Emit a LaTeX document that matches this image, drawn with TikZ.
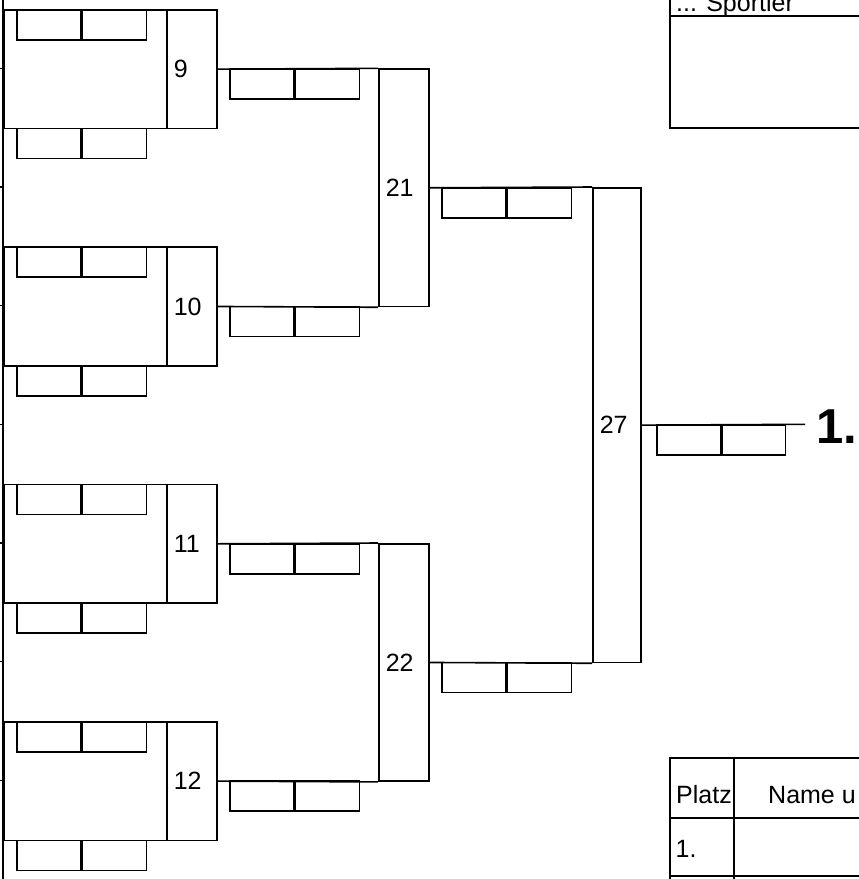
\documentclass[tikz,border=0pt]{standalone}
\usepackage{fontspec}
\setmainfont{Liberation Sans}
\begin{document}
\begin{tikzpicture}[x=1pt,y=-1pt,
  ln/.style={line width=1.6pt},
  cell/.style={draw, line width=1.6pt, inner sep=0pt, anchor=north west},
  score/.style={cell, minimum width=64pt, minimum height=30pt},
  lbl/.style={font=\fontsize{25}{25}\selectfont},
  numcell/.style={cell, lbl, minimum width=50pt, inner xsep=7pt, text width=36pt, align=left},
]
\useasboundingbox (0,0) rectangle (859,879);
\clip (0,0) rectangle (859,879);
% left rail and ticks
\draw[ln] (3,-5) -- (3,890);
\foreach \yy in {68.33,187,305.67,424.33,543,661.67,780.33}
  \draw[ln] (-2,\yy) -- (3,\yy);
% first-column blocks
\foreach \n/\t in {9/9,10/246.33,11/483.67,12/721}{
  \node[cell, minimum width=213pt, minimum height=118.67pt] (blk\n) at (3,\t) {};
  \node[numcell, minimum height=118.67pt] (n\n) at (166,\t) {\n};
  \node[score] (sta\n) at (16,\t) {};
  \node[score] (stb\n) at (sta\n.north east) {};
  \node[score] (sba\n) at (16,\t+118.67) {};
  \node[score] (sbb\n) at (sba\n.north east) {};
  \node[score] (sca\n) at (229,\t+59.33) {};
  \node[score] (scb\n) at (sca\n.north east) {};
}
% second column
\node[numcell, minimum height=237.33pt] (b21) at (378,68.33) {21};
\node[numcell, minimum height=237.33pt] (b22) at (378,543) {22};
\node[score] (sca21) at (441,187) {};
\node[score] (scb21) at (sca21.north east) {};
\node[score] (sca22) at (441,661.67) {};
\node[score] (scb22) at (sca22.north east) {};
% final
\node[numcell, minimum width=48pt, text width=34pt, minimum height=474.67pt] (b27) at (592,187) {27};
\node[score] (sca27) at (656,424.33) {};
\node[score, minimum width=63pt] (scb27) at (sca27.north east) {};
\coordinate (fin) at (805,424.33);
\node[font=\bfseries\fontsize{49}{49}\selectfont, anchor=base west, inner sep=0pt] (first) at (816,443) {1.};
% connectors
\draw[ln] (n9.east) -- (b21.north west);
\draw[ln] (n10.east) -- (b21.south west);
\draw[ln] (n11.east) -- (b22.north west);
\draw[ln] (n12.east) -- (b22.south west);
\draw[ln] (b21.east) -- (b27.north west);
\draw[ln] (b22.east) -- (b27.south west);
\draw[ln] (b27.east) -- (fin);
% top-right box
\draw[ln] (670,-10) -- (670,128) -- (880,128);
\draw[ln] (670,16) -- (880,16);
\node[lbl, anchor=base west, inner sep=0pt] (sportler) at (676,11.5) {... Sportler};
% results table
\draw[ln] (670,890) -- (670,758) -- (880,758);
\draw[ln] (670,818) -- (880,818);
\draw[ln] (670,876) -- (880,876);
\draw[ln] (734,758) -- (734,890);
\node[lbl, anchor=base west, inner sep=0pt] (platz) at (676,803) {Platz};
\node[lbl, anchor=base west, inner sep=0pt] (name) at (768,803) {Name u};
\node[lbl, anchor=base west, inner sep=0pt] (p1) at (675.5,857) {1.};
\end{tikzpicture}
\end{document}
